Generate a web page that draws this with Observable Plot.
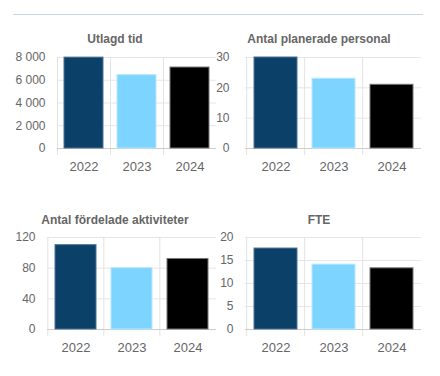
<!DOCTYPE html>
<html><head><meta charset="utf-8">
<script src="https://cdn.jsdelivr.net/npm/d3@7"></script>
<script src="https://cdn.jsdelivr.net/npm/@observablehq/plot@0.6"></script>
<style>
body{margin:0;background:#fff;font-family:"Liberation Sans",Arial,sans-serif;}
#root{position:relative;width:440px;height:376px;overflow:hidden;background:#fff}
#topline{position:absolute;left:13px;top:14px;width:410px;height:1px;background:#c4d6e4}
.title{position:absolute;font-weight:bold;font-size:12px;color:#666;white-space:nowrap;transform:translate(-50%,-50%);line-height:14px}
.panel{position:absolute}
.panel svg{display:block;overflow:visible}
</style></head><body><div id="root"><div id="topline"></div></div>
<script>
const years = ["2022", "2023", "2024"];
const barColors = ["#0b4068", "#7dd5ff", "#000000"];
const barStrokes = ["#4f7391", "#b5e8ff", "#777777"];
const titles = ["Utlagd tid", "Antal planerade personal", "Antal fördelade aktiviteter", "FTE"];
const utlagdTid = [7990, 6450, 7120];
const planeradePersonal = [30, 23, 21];
const fordeladeAktiviteter = [110, 80, 92];
const fte = [17.6, 14.1, 13.3];
const yTicks1 = [0, 2000, 4000, 6000, 8000];
const yTicks2 = [0, 10, 20, 30];
const yTicks3 = [0, 40, 80, 120];
const yTicks4 = [0, 5, 10, 15, 20];

const sv = d3.formatLocale({decimal: ",", thousands: "\u00a0", grouping: [3], currency: ["", " kr"]});
const fmt = sv.format(",");

const panels = [
  {values: utlagdTid, ticks: yTicks1, title: titles[0], left: 0, top: 45, width: 220, height: 135, ml: 57, mr: 4, tx: 115, ty: 39, pad: 12},
  {values: planeradePersonal, ticks: yTicks2, title: titles[1], left: 220, top: 45, width: 220, height: 135, ml: 25, mr: 19, tx: 99, ty: 39, pad: 16},
  {values: fordeladeAktiviteter, ticks: yTicks3, title: titles[2], left: 0, top: 225, width: 220, height: 136, ml: 47, mr: 4, tx: 115, ty: 220, pad: 12},
  {values: fte, ticks: yTicks4, title: titles[3], left: 220, top: 225, width: 220, height: 136, ml: 25, mr: 19, tx: 99, ty: 220, pad: 12}
];

const root = document.getElementById("root");
for (const p of panels) {
  const data = years.map((y, i) => ({year: y, value: p.values[i], fill: barColors[i], stroke: barStrokes[i]}));
  const mt = 12, mb = 32;
  const step = (p.width - p.ml - p.mr) / years.length;
  const chart = Plot.plot({
    width: p.width,
    height: p.height,
    marginLeft: p.ml,
    marginRight: p.mr,
    marginTop: mt,
    marginBottom: mb,
    style: {fontFamily: '"Liberation Sans", Arial, sans-serif', color: "#666", background: "transparent"},
    x: {domain: years, paddingInner: 0.26, paddingOuter: 0.13, label: null},
    y: {domain: [0, d3.max(p.ticks)], ticks: p.ticks, label: null, nice: false},
    color: {type: "identity"},
    marks: [
      Plot.gridY(p.ticks, {stroke: "#e6e6e6", strokeOpacity: 1}),
      Plot.ruleX(years, {x: d => d, dx: -step / 2, stroke: "#e3e3e3", insetBottom: -7}),
      Plot.ruleY([0], {stroke: "#cccccc"}),
      Plot.barY(data, {x: "year", y: "value", fill: "fill", stroke: "stroke", strokeWidth: 1}),
      Plot.axisY(p.ticks, {tickSize: 0, tickPadding: p.pad, tickFormat: fmt, fontSize: 12, fill: "#666"}),
      Plot.axisX({tickSize: 0, tickPadding: 13, fontSize: 13, fill: "#666"})
    ]
  });
  const div = document.createElement("div");
  div.className = "panel";
  div.style.left = p.left + "px";
  div.style.top = p.top + "px";
  div.appendChild(chart);
  root.appendChild(div);
  const t = document.createElement("div");
  t.className = "title";
  t.textContent = p.title;
  t.style.left = (p.left + p.tx) + "px";
  t.style.top = p.ty + "px";
  root.appendChild(t);
}
</script></body></html>
